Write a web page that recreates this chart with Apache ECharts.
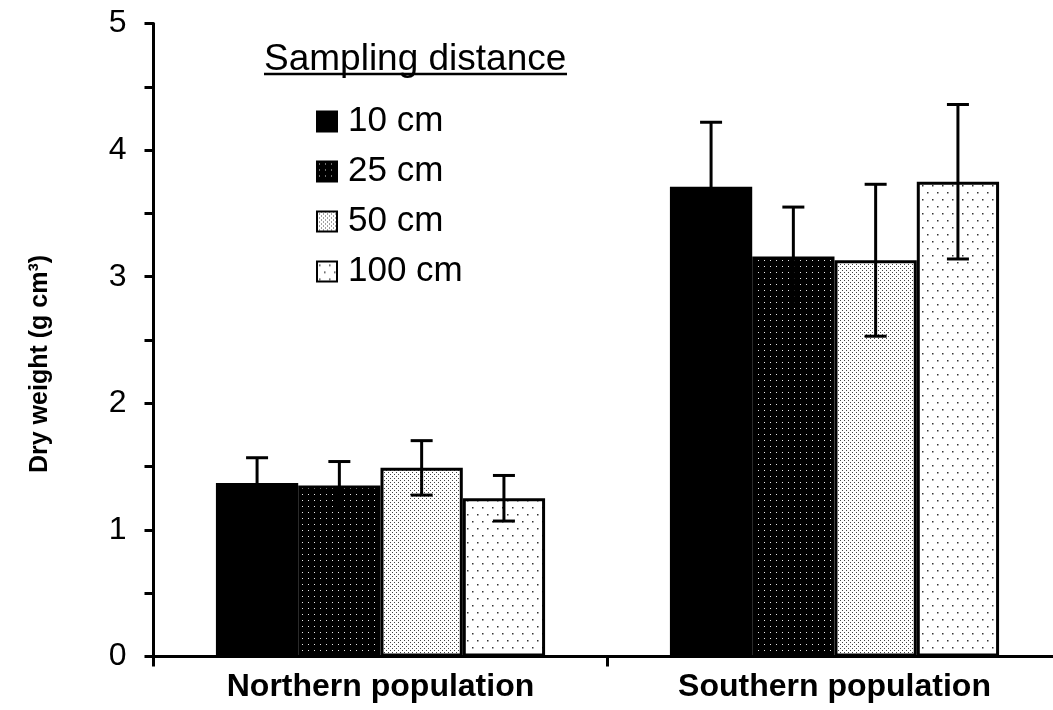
<!DOCTYPE html>
<html>
<head>
<meta charset="utf-8">
<script src="https://cdn.jsdelivr.net/npm/echarts@6/dist/echarts.min.js"></script>
<style>html,body{margin:0;padding:0;background:#fff;overflow:hidden;width:1053px;height:710px;}#chart{width:1070px;height:710px;}</style>
</head>
<body>
<div id="chart"></div>
<script>
// ---- data ----
const categories = ['Northern population', 'Southern population'];
const seriesNames = ['10 cm', '25 cm', '50 cm', '100 cm'];
const mean10 = [1.37, 3.71];
const mean25 = [1.35, 3.16];
const mean50 = [1.49, 3.13];
const mean100 = [1.25, 3.75];
const err10 = [0.20, 0.51];
const err25 = [0.19, 0.39];
const err50 = [0.215, 0.60];
const err100 = [0.18, 0.61];
const yTicks = [0, 1, 2, 3, 4, 5];
const yAxisTitle = 'Dry weight (g cm\u00B3)';
const legendTitle = 'Sampling distance';

const means = [mean10, mean25, mean50, mean100];
const errs = [err10, err25, err50, err100];

// ---- patterns ----
function makePattern(w, h, bg, dots, color, size) {
  const c = document.createElement('canvas');
  c.width = w; c.height = h;
  const g = c.getContext('2d');
  g.fillStyle = bg; g.fillRect(0, 0, w, h);
  g.fillStyle = color;
  dots.forEach(d => g.fillRect(d[0], d[1], size, size));
  return c;
}
const fills = [
  '#000',
  { image: makePattern(6, 6, '#000', [[2, 2]], '#e8e8e8', 1), repeat: 'repeat' },
  { image: makePattern(4, 4, '#fff', [[0, 0], [2, 2]], '#444', 1), repeat: 'repeat' },
  { image: makePattern(10, 14, '#fff', [[2, 3], [7, 10]], '#333', 1.5), repeat: 'repeat' }
];

const catGap = 0.275;
const font = '"Liberation Sans", Arial, sans-serif';

const series = [];
seriesNames.forEach((name, k) => {
  series.push({
    name: name,
    type: 'bar',
    data: means[k],
    barGap: '0%',
    barCategoryGap: (catGap * 100) + '%',
    itemStyle: { color: fills[k], borderColor: '#000', borderWidth: 3 },
    z: 2
  });
});
seriesNames.forEach((name, k) => {
  series.push({
    type: 'custom',
    name: name + ' err',
    z: 5,
    silent: true,
    data: categories.map((c, i) => [i, means[k][i], errs[k][i]]),
    renderItem: function (params, api) {
      const cat = api.value(0), m = api.value(1), e = api.value(2);
      const bandW = api.size([1, 0])[0];
      const barW = bandW * (1 - catGap) / 4;
      const x = api.coord([cat, m])[0] + (k - 1.5) * barW;
      const yt = api.coord([cat, m + e])[1];
      const yb = api.coord([cat, m - e])[1];
      const cap = 11;
      const st = { stroke: '#000', lineWidth: 3 };
      return {
        type: 'group',
        children: [
          { type: 'line', shape: { x1: x, y1: yt, x2: x, y2: yb }, style: st },
          { type: 'line', shape: { x1: x - cap, y1: yt, x2: x + cap, y2: yt }, style: st },
          { type: 'line', shape: { x1: x - cap, y1: yb, x2: x + cap, y2: yb }, style: st }
        ]
      };
    }
  });
});

const chart = echarts.init(document.getElementById('chart'), null, { renderer: 'canvas' });
chart.setOption({
  animation: false,
  backgroundColor: '#fff',
  textStyle: { fontFamily: font },
  grid: { left: 153.5, right: 8.5, top: 23.5, bottom: 53.5, containLabel: false },
  legend: {
    data: seriesNames,
    orient: 'vertical',
    left: 311,
    top: 99,
    itemWidth: 20,
    itemHeight: 20,
    itemGap: 15,
    icon: 'rect',
    selectedMode: false,
    textStyle: { fontFamily: font, fontSize: 35, color: '#000', padding: [0, 0, 0, 6] }
  },
  xAxis: {
    type: 'category',
    data: categories,
    axisLine: { lineStyle: { color: '#000', width: 3 } },
    axisTick: { show: true, length: 10, lineStyle: { color: '#000', width: 3 } },
    axisLabel: { fontFamily: font, fontSize: 32, fontWeight: 'bold', color: '#000', margin: 15 },
    splitLine: { show: false }
  },
  yAxis: {
    type: 'value',
    min: yTicks[0],
    max: yTicks[yTicks.length - 1],
    interval: 1,
    axisLine: { show: true, lineStyle: { color: '#000', width: 3 } },
    axisTick: { show: true, length: 9, lineStyle: { color: '#000', width: 3 } },
    minorTick: { show: true, splitNumber: 2, length: 9, lineStyle: { color: '#000', width: 3 } },
    axisLabel: { fontFamily: font, fontSize: 32, color: '#000', margin: 27 },
    splitLine: { show: false },
    minorSplitLine: { show: false }
  },
  graphic: [
    {
      type: 'text',
      x: 40, y: 364,
      rotation: Math.PI / 2,
      style: {
        text: yAxisTitle,
        fontFamily: font, fontSize: 25, fontWeight: 'bold', fill: '#000',
        align: 'center', verticalAlign: 'middle'
      }
    },
    {
      type: 'text',
      x: 264, y: 60,
      style: {
        text: legendTitle,
        fontFamily: font, fontSize: 37, fill: '#000',
        align: 'left', verticalAlign: 'middle'
      }
    },
    {
      type: 'line',
      shape: { x1: 264, y1: 74, x2: 567, y2: 74 },
      style: { stroke: '#000', lineWidth: 2.5 }
    }
  ],
  series: series
});
</script>
</body>
</html>
